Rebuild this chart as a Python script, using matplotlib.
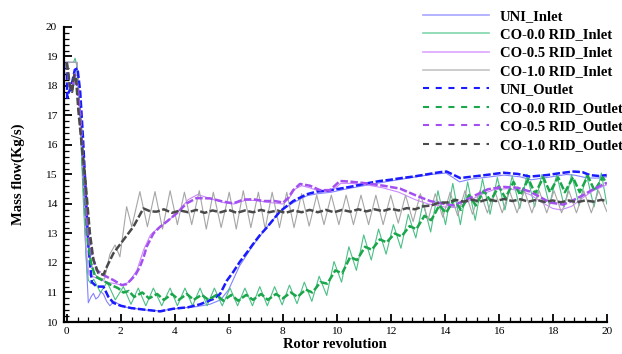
import matplotlib
matplotlib.use("Agg")
import matplotlib.pyplot as plt
from matplotlib.ticker import MultipleLocator
from matplotlib.lines import Line2D

# ---------------- data ----------------
uni_in_x = [0, 0.38, 0.5, 0.62, 0.72, 0.8, 0.9, 0.99, 1.08, 1.17, 1.27, 1.36, 1.48, 1.6, 1.75, 1.9, 2.05, 2.2,
            2.6, 3.0, 3.4, 3.8, 4.3, 4.8, 5.3, 5.7, 6.0, 6.4, 6.9, 7.4, 7.9, 8.4, 8.9, 9.3, 9.8, 10.3, 11.0,
            11.8, 12.8, 13.5, 14.05, 14.3, 14.55, 15.0, 15.5, 16.2, 16.8, 17.2, 17.8, 18.5, 18.8, 19.3, 19.7, 20]
uni_in_y = [18.8, 18.8, 17.0, 14.5, 12.2, 10.65, 10.85, 10.97, 10.78, 10.85, 11.02, 10.95, 10.7, 10.55, 10.7,
            10.62, 10.55, 10.5, 10.45, 10.4, 10.38, 10.42, 10.48, 10.52, 10.6, 10.75, 11.1, 11.9, 12.6, 13.2,
            13.75, 14.05, 14.28, 14.35, 14.4, 14.5, 14.62, 14.75, 14.9, 15.0, 15.05, 14.9, 14.75, 14.85, 14.9,
            14.98, 14.92, 14.82, 14.9, 15.0, 14.98, 14.88, 14.88, 14.92]

co0_in_x = [0, 0.25, 0.31, 0.37, 0.5, 0.62, 0.72, 0.8, 0.9, 1.0, 1.25, 1.5, 1.8, 2.1, 2.38, 2.65, 2.93, 3.21,
            3.52, 3.83, 4.1, 4.38, 4.66, 4.94, 5.2, 5.47, 5.76, 6.05, 6.33, 6.6, 6.88, 7.15, 7.43, 7.7, 7.98,
            8.25, 8.53, 8.8, 9.08, 9.35, 9.63, 9.9, 10.18, 10.45, 10.73, 11.0, 11.28, 11.55, 11.83, 12.1,
            12.38, 12.65, 12.93, 13.2, 13.48, 13.75, 14.03, 14.3, 14.58, 14.85, 15.13, 15.4, 15.68, 15.95,
            16.23, 16.5, 16.78, 17.05, 17.33, 17.6, 17.88, 18.15, 18.43, 18.7, 18.98, 19.25, 19.53, 19.8, 20.0]
co0_in_y = [18.8, 18.8, 18.94, 18.7, 16.8, 14.0, 12.2, 11.42, 11.3, 11.45, 11.0, 11.35, 10.75, 11.2, 10.6,
            11.15, 10.55, 11.15, 10.55, 11.15, 10.55, 11.15, 10.55, 11.15, 10.55, 11.15, 10.55, 11.15, 10.55,
            11.15, 10.55, 11.2, 10.55, 11.2, 10.58, 11.25, 10.62, 11.35, 10.7, 11.55, 10.9, 12.05, 11.35,
            12.55, 11.75, 12.95, 12.1, 13.15, 12.3, 13.3, 12.5, 13.65, 12.85, 14.05, 13.05, 14.45, 13.3,
            14.7, 13.3, 14.75, 13.45, 14.85, 13.65, 14.9, 13.8, 14.95, 13.85, 15.0, 13.9, 15.0, 13.95, 15.0,
            13.9, 15.0, 13.95, 15.0, 13.9, 15.05, 14.0]

co05_in_x = [0, 0.38, 0.5, 0.62, 0.72, 0.82, 0.95, 1.2, 1.5, 1.8, 2.05, 2.3, 2.6, 2.85, 3.1, 3.4, 3.7, 4.1,
             4.5, 4.85, 5.2, 5.8, 6.2, 6.6, 7.0, 7.5, 8.0, 8.2, 8.45, 8.7, 9.0, 9.4, 9.8, 10.15, 10.5, 11.1,
             11.7, 12.3, 12.9, 13.4, 14.0, 14.4, 14.8, 15.3, 15.8, 16.3, 16.8, 17.2, 17.6, 18.0, 18.3, 18.7,
             19.1, 19.5, 20]
co05_in_y = [18.8, 18.8, 17.0, 14.5, 12.5, 11.6, 11.55, 11.45, 11.35, 11.3, 11.25, 11.35, 11.75, 12.45,
             12.95, 13.2, 13.38, 13.72, 14.15, 14.32, 14.22, 14.05, 14.0, 14.12, 14.12, 14.05, 14.0, 14.15,
             14.5, 14.62, 14.55, 14.42, 14.42, 14.7, 14.7, 14.65, 14.55, 14.4, 14.15, 14.0, 13.9, 13.88,
             14.05, 14.3, 14.48, 14.52, 14.45, 14.3, 14.05, 13.85, 13.8, 13.92, 14.2, 14.45, 14.65]

co1_in_x = [0, 0.38, 0.5, 0.62, 0.75, 0.9, 1.05, 1.2, 1.4, 1.6, 1.79, 1.97, 2.22, 2.41, 2.71, 2.99, 3.27,
            3.55, 3.83, 4.1, 4.36, 4.63, 4.91, 5.17, 5.43, 5.72, 6.02, 6.28, 6.54, 6.82, 7.1, 7.35, 7.61,
            7.88, 8.15, 8.42, 8.7, 8.98, 9.26, 9.53, 9.8, 10.08, 10.35, 10.62, 10.9, 11.18, 11.45, 11.72,
            12.0, 12.28, 12.55, 12.83, 13.1, 13.38, 13.65, 13.93, 14.2, 14.48, 14.75, 15.03, 15.3, 15.58,
            15.85, 16.13, 16.4, 16.68, 16.95, 17.23, 17.5, 17.78, 18.05, 18.33, 18.6, 18.88, 19.15, 19.43,
            19.7, 20]
co1_in_y = [18.8, 18.8, 17.2, 15.0, 13.0, 12.0, 11.6, 11.5, 11.45, 12.3, 12.61, 12.21, 13.91, 13.23, 14.42,
            13.23, 14.42, 13.15, 14.45, 13.3, 14.4, 13.3, 14.45, 13.15, 14.4, 13.2, 14.4, 13.15, 14.45, 13.2,
            14.4, 13.15, 14.4, 13.2, 14.4, 13.2, 14.35, 13.25, 14.3, 13.3, 14.3, 13.3, 14.3, 13.3, 14.3,
            13.3, 14.3, 13.3, 14.3, 13.35, 14.3, 13.4, 14.35, 13.45, 14.35, 13.55, 14.4, 13.6, 14.45, 13.65,
            14.45, 13.7, 14.45, 13.7, 14.45, 13.7, 14.45, 13.7, 14.45, 13.7, 14.45, 13.7, 14.45, 13.7, 14.45,
            13.7, 14.45, 13.75]

uni_out_x = [0, 0.02, 0.08, 0.15, 0.22, 0.3, 0.4, 0.5, 0.6, 0.7, 0.8, 0.93, 1.11, 1.36, 1.54, 1.73, 2.0,
             2.4, 2.96, 3.46, 3.95, 4.5, 4.94, 5.43, 5.68, 5.93, 6.17, 6.42, 6.67, 6.91, 7.16, 7.41, 7.9,
             8.39, 8.89, 9.26, 9.6, 10.12, 10.6, 11.11, 11.6, 11.97, 12.4, 12.84, 13.3, 13.83, 14.07, 14.3,
             14.57, 14.94, 15.5, 16.17, 16.7, 17.16, 17.78, 18.3, 18.77, 19.1, 19.38, 19.7, 20]
uni_out_y = [18.8, 17.6, 17.8, 17.9, 18.2, 18.55, 18.6, 17.8, 16.3, 14.5, 12.6, 11.35, 11.2, 11.2, 10.86,
             10.65, 10.55, 10.47, 10.41, 10.36, 10.45, 10.5, 10.6, 10.78, 10.95, 11.4, 11.7, 12.05, 12.35,
             12.65, 12.95, 13.2, 13.75, 14.1, 14.33, 14.42, 14.45, 14.52, 14.6, 14.7, 14.78, 14.82, 14.88,
             14.93, 15.0, 15.08, 15.1, 15.0, 14.88, 14.92, 14.98, 15.06, 15.02, 14.93, 14.98, 15.05, 15.1,
             15.08, 14.98, 14.95, 14.98]

co0_out_x = [0, 0.1, 0.2, 0.3, 0.37, 0.5, 0.62, 0.75, 0.9, 1.05, 1.25, 1.45, 1.65, 1.9, 2.1, 2.3, 2.5, 2.8,
             3.05, 3.35, 3.6, 3.9, 4.15, 4.45, 4.7, 5.0, 5.25, 5.55, 5.8, 6.1, 6.35, 6.65, 6.9, 7.2, 7.45,
             7.75, 8.0, 8.3, 8.55, 8.85, 9.1, 9.4, 9.65, 9.95, 10.2, 10.5, 10.75, 11.05, 11.3, 11.6, 11.85,
             12.15, 12.4, 12.7, 12.95, 13.25, 13.5, 13.8, 14.05, 14.35, 14.6, 14.9, 15.15, 15.45, 15.7, 16.0,
             16.25, 16.55, 16.8, 17.1, 17.35, 17.65, 17.9, 18.2, 18.45, 18.75, 19.0, 19.3, 19.55, 19.85, 20]
co0_out_y = [18.8, 18.0, 17.85, 18.4, 18.2, 17.0, 15.0, 13.0, 12.0, 11.55, 11.45, 11.35, 11.25, 11.15, 11.0,
             11.05, 10.85, 11.0, 10.8, 10.95, 10.75, 10.95, 10.75, 10.95, 10.75, 10.92, 10.75, 10.92, 10.72,
             10.92, 10.72, 10.92, 10.75, 10.95, 10.75, 10.95, 10.8, 11.0, 10.85, 11.1, 11.0, 11.35, 11.3,
             11.75, 11.65, 12.2, 12.1, 12.55, 12.45, 12.8, 12.7, 13.0, 12.9, 13.25, 13.15, 13.6, 13.45, 13.95,
             13.7, 14.15, 13.8, 14.3, 13.95, 14.45, 14.1, 14.6, 14.2, 14.75, 14.3, 14.85, 14.35, 14.9, 14.4,
             14.9, 14.4, 14.9, 14.4, 14.95, 14.45, 14.9, 14.7]

co05_out_x = [0, 0.1, 0.2, 0.3, 0.4, 0.49, 0.68, 0.8, 0.93, 1.11, 1.36, 1.73, 2.04, 2.2, 2.35, 2.55, 2.71,
              2.85, 2.96, 3.21, 3.45, 3.7, 4.07, 4.44, 4.81, 5.31, 5.8, 6.17, 6.54, 6.91, 7.3, 7.7, 8.02, 8.2,
              8.39, 8.64, 9.01, 9.38, 9.75, 10.12, 10.49, 11.11, 11.73, 12.35, 12.96, 13.46, 14.0, 14.32,
              14.7, 15.19, 15.6, 16.17, 16.7, 17.16, 17.6, 17.9, 18.39, 18.7, 19.13, 19.5, 20]
co05_out_y = [18.8, 18.0, 17.85, 18.4, 18.0, 17.08, 14.59, 13.0, 12.3, 11.76, 11.59, 11.42, 11.25, 11.28,
              11.4, 11.6, 11.87, 12.2, 12.55, 13.0, 13.22, 13.4, 13.68, 14.02, 14.2, 14.19, 14.08, 14.02,
              14.15, 14.16, 14.1, 14.1, 14.05, 14.2, 14.47, 14.68, 14.62, 14.47, 14.47, 14.78, 14.76, 14.7,
              14.62, 14.52, 14.28, 14.1, 14.0, 13.95, 14.1, 14.32, 14.5, 14.58, 14.55, 14.42, 14.2, 14.05,
              13.98, 14.1, 14.3, 14.5, 14.72]

co1_out_x = [0, 0.12, 0.2, 0.28, 0.35, 0.43, 0.55, 0.68, 0.86, 0.99, 1.17, 1.36, 1.5, 1.73, 2.1, 2.47, 2.84,
             3.1, 3.33, 3.6, 3.9, 4.2, 4.5, 4.8, 5.1, 5.4, 5.7, 6.0, 6.3, 6.6, 6.9, 7.2, 7.5, 7.8, 8.1, 8.4,
             8.7, 9.0, 9.3, 9.6, 9.9, 10.2, 10.5, 10.8, 11.1, 11.4, 11.7, 12.0, 12.3, 12.6, 12.9, 13.2, 13.5,
             13.8, 14.1, 14.4, 14.7, 15.0, 15.3, 15.6, 15.9, 16.2, 16.5, 16.8, 17.1, 17.4, 17.7, 18.0, 18.3,
             18.6, 18.9, 19.2, 19.5, 19.8, 20]
co1_out_y = [18.8, 18.0, 17.8, 18.37, 18.2, 17.19, 16.06, 14.93, 13.0, 12.1, 11.66, 11.6, 11.9, 12.33, 12.78,
             13.23, 13.85, 13.75, 13.74, 13.82, 13.7, 13.78, 13.72, 13.8, 13.7, 13.78, 13.72, 13.8, 13.7,
             13.78, 13.72, 13.8, 13.72, 13.78, 13.7, 13.78, 13.72, 13.8, 13.72, 13.8, 13.72, 13.8, 13.74,
             13.82, 13.75, 13.82, 13.76, 13.84, 13.78, 13.86, 13.82, 13.92, 13.95, 14.05, 14.05, 14.14, 14.08,
             14.15, 14.08, 14.16, 14.1, 14.17, 14.1, 14.16, 14.08, 14.14, 14.07, 14.12, 14.06, 14.12, 14.06,
             14.12, 14.08, 14.14, 14.1]

labels = ["UNI_Inlet", "CO-0.0 RID_Inlet", "CO-0.5 RID_Inlet", "CO-1.0 RID_Inlet",
          "UNI_Outlet", "CO-0.0 RID_Outlet", "CO-0.5 RID_Outlet", "CO-1.0 RID_Outlet"]
x_ticks = [0, 2, 4, 6, 8, 10, 12, 14, 16, 18, 20]
y_ticks = [10, 11, 12, 13, 14, 15, 16, 17, 18, 19, 20]

# ---------------- style ----------------
plt.rcParams['font.family'] = ['Liberation Serif', 'DejaVu Serif']

fig = plt.figure(figsize=(6.22, 3.54), dpi=100)
ax = fig.add_axes([64 / 622, 1 - 322 / 354, (606.7 - 64) / 622, (322 - 27) / 354])

in_colors = ['#8282ff', '#4cbf86', '#cc88ff', '#a6a6a6']
in_leg_colors = ['#a6a6ff', '#80d6aa', '#dca6ff', '#c4c4c4']
out_colors = ['#1a1aff', '#1aa64a', '#a450f0', '#4a4a4a']
in_x = [uni_in_x, co0_in_x, co05_in_x, co1_in_x]
in_y = [uni_in_y, co0_in_y, co05_in_y, co1_in_y]
out_x = [uni_out_x, co0_out_x, co05_out_x, co1_out_x]
out_y = [uni_out_y, co0_out_y, co05_out_y, co1_out_y]

handles = []
for xs, ys, c, lc, lab in zip(in_x, in_y, in_colors, in_leg_colors, labels[:4]):
    ax.plot(xs, ys, color=c, lw=0.8, zorder=2)
    handles.append(Line2D([], [], color=lc, lw=1.2, label=lab))
for xs, ys, c, lab in zip(out_x, out_y, out_colors, labels[4:]):
    ax.plot(xs, ys, color=c, lw=1.8, dashes=(3, 1.0), zorder=3)
    handles.append(Line2D([], [], color=c, lw=1.5, dashes=(2.9, 3.2), label=lab))

ax.set_xlim(-0.1, 20)
ax.set_ylim(10, 20)
ax.set_xticks(x_ticks)
ax.set_yticks(y_ticks)
ax.xaxis.set_minor_locator(MultipleLocator(0.4))
ax.yaxis.set_minor_locator(MultipleLocator(0.2))
ax.tick_params(which='major', direction='in', length=6, width=1.3, labelsize=8.2)
ax.tick_params(axis='y', which='major', pad=5)
ax.tick_params(axis='x', which='major', pad=3.5)
ax.tick_params(which='minor', direction='in', length=3.5, width=0.9)
for s in ['top', 'right']:
    ax.spines[s].set_visible(False)
for s in ['left', 'bottom']:
    ax.spines[s].set_linewidth(1.6)

ax.set_xlabel("Rotor revolution", fontsize=10.5, fontweight='bold', labelpad=1.5)
ax.set_ylabel("Mass flow(Kg/s)", fontsize=10.5, fontweight='bold', labelpad=15)

fig.legend(handles=handles, loc='upper left', bbox_to_anchor=(423 / 622, 1 - 9.5 / 354),
           frameon=False, prop={'family': 'Liberation Serif', 'weight': 'bold', 'size': 10.5},
           handlelength=4.5, handletextpad=0.75, labelspacing=0.36, borderpad=0, borderaxespad=0)

fig.savefig("out.png", dpi=100)
